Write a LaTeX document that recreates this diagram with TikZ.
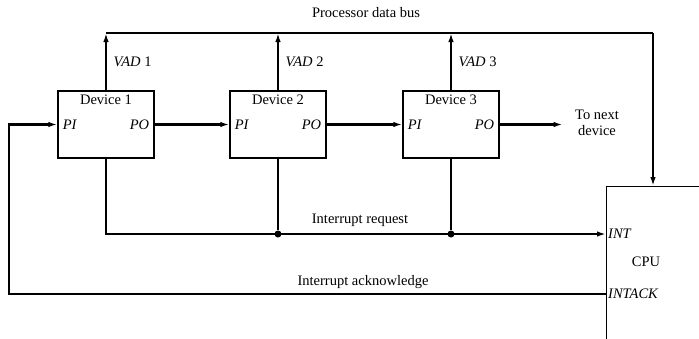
\documentclass[tikz,border=0pt]{standalone}
\usepackage{fontspec}
\setmainfont{Liberation Serif}
\usetikzlibrary{arrows.meta,positioning,calc}

\begin{document}
\begin{tikzpicture}[x=1pt,y=-1pt,
    font=\fontsize{14.5}{15.5}\selectfont,
    bus/.style={line width=2.4pt},
    busarrow/.style={line width=2.4pt,-{Latex[length=9pt,width=5.5pt]}},
    device/.style={draw,line width=1.4pt,minimum width=96pt,minimum height=67pt,inner sep=0pt},
    junction/.style={circle,fill,inner sep=0pt,minimum size=7pt}]
  \clip (0,0) rectangle (699,338);
  % devices on the chain
  \foreach \i/\x in {1/106,2/278,3/451} {
    \node[device] (dev\i) at (\x,124.5) {};
    \node[below=1pt of dev\i.north] (name\i) {Device \i};
    \node[right=2pt of dev\i.west] (pi\i) {\textit{PI}};
    \node[left=2pt of dev\i.east] (po\i) {\textit{PO}};
  }
  \node[draw,line width=1.4pt,anchor=north west,minimum width=200pt,minimum height=300pt] (cpu) at (606,186) {};
  \node[anchor=west,inner sep=2pt] (int) at (cpu.west |- 0,234) {\textit{INT}};
  \node[anchor=west,inner sep=2pt] (intack) at (cpu.west |- 0,294) {\textit{INTACK}};
  \node (cpuname) at (646,262) {CPU};
  % data bus
  \coordinate (busR) at (653,33);
  \node (buslbl) at (366,13) {Processor data bus};
  \draw[bus] (dev1.north |- busR) -- (busR);
  \draw[busarrow] (busR) -- (busR |- cpu.north);
  \foreach \i in {1,2,3}
    \draw[busarrow] (dev\i.north) -- (dev\i.north |- busR)
      node[midway,right=3pt] (vad\i) {\textit{VAD} \i};
  % priority chain
  \draw[busarrow] (dev1.east) -- (dev2.west);
  \draw[busarrow] (dev2.east) -- (dev3.west);
  \node[align=center] (next) at (597,123) {To next\\device};
  \draw[busarrow,shorten >=9pt] (dev3.east) -- (dev3.east -| next.west);
  % interrupt lines
  \draw[busarrow] (dev1.south) |- (int.west);
  \node[junction] (j2) at (dev2.south |- int.west) {};
  \node[junction] (j3) at (dev3.south |- int.west) {};
  \draw[bus] (dev2.south) -- (j2);
  \draw[bus] (dev3.south) -- (j3);
  \node (irqlbl) at (360,220) {Interrupt request};
  \coordinate (ackL) at (9,294);
  \draw[busarrow] (intack.west) -- (ackL) |- (dev1.west);
  \node (acklbl) at (363,282) {Interrupt acknowledge};
\end{tikzpicture}
\end{document}
